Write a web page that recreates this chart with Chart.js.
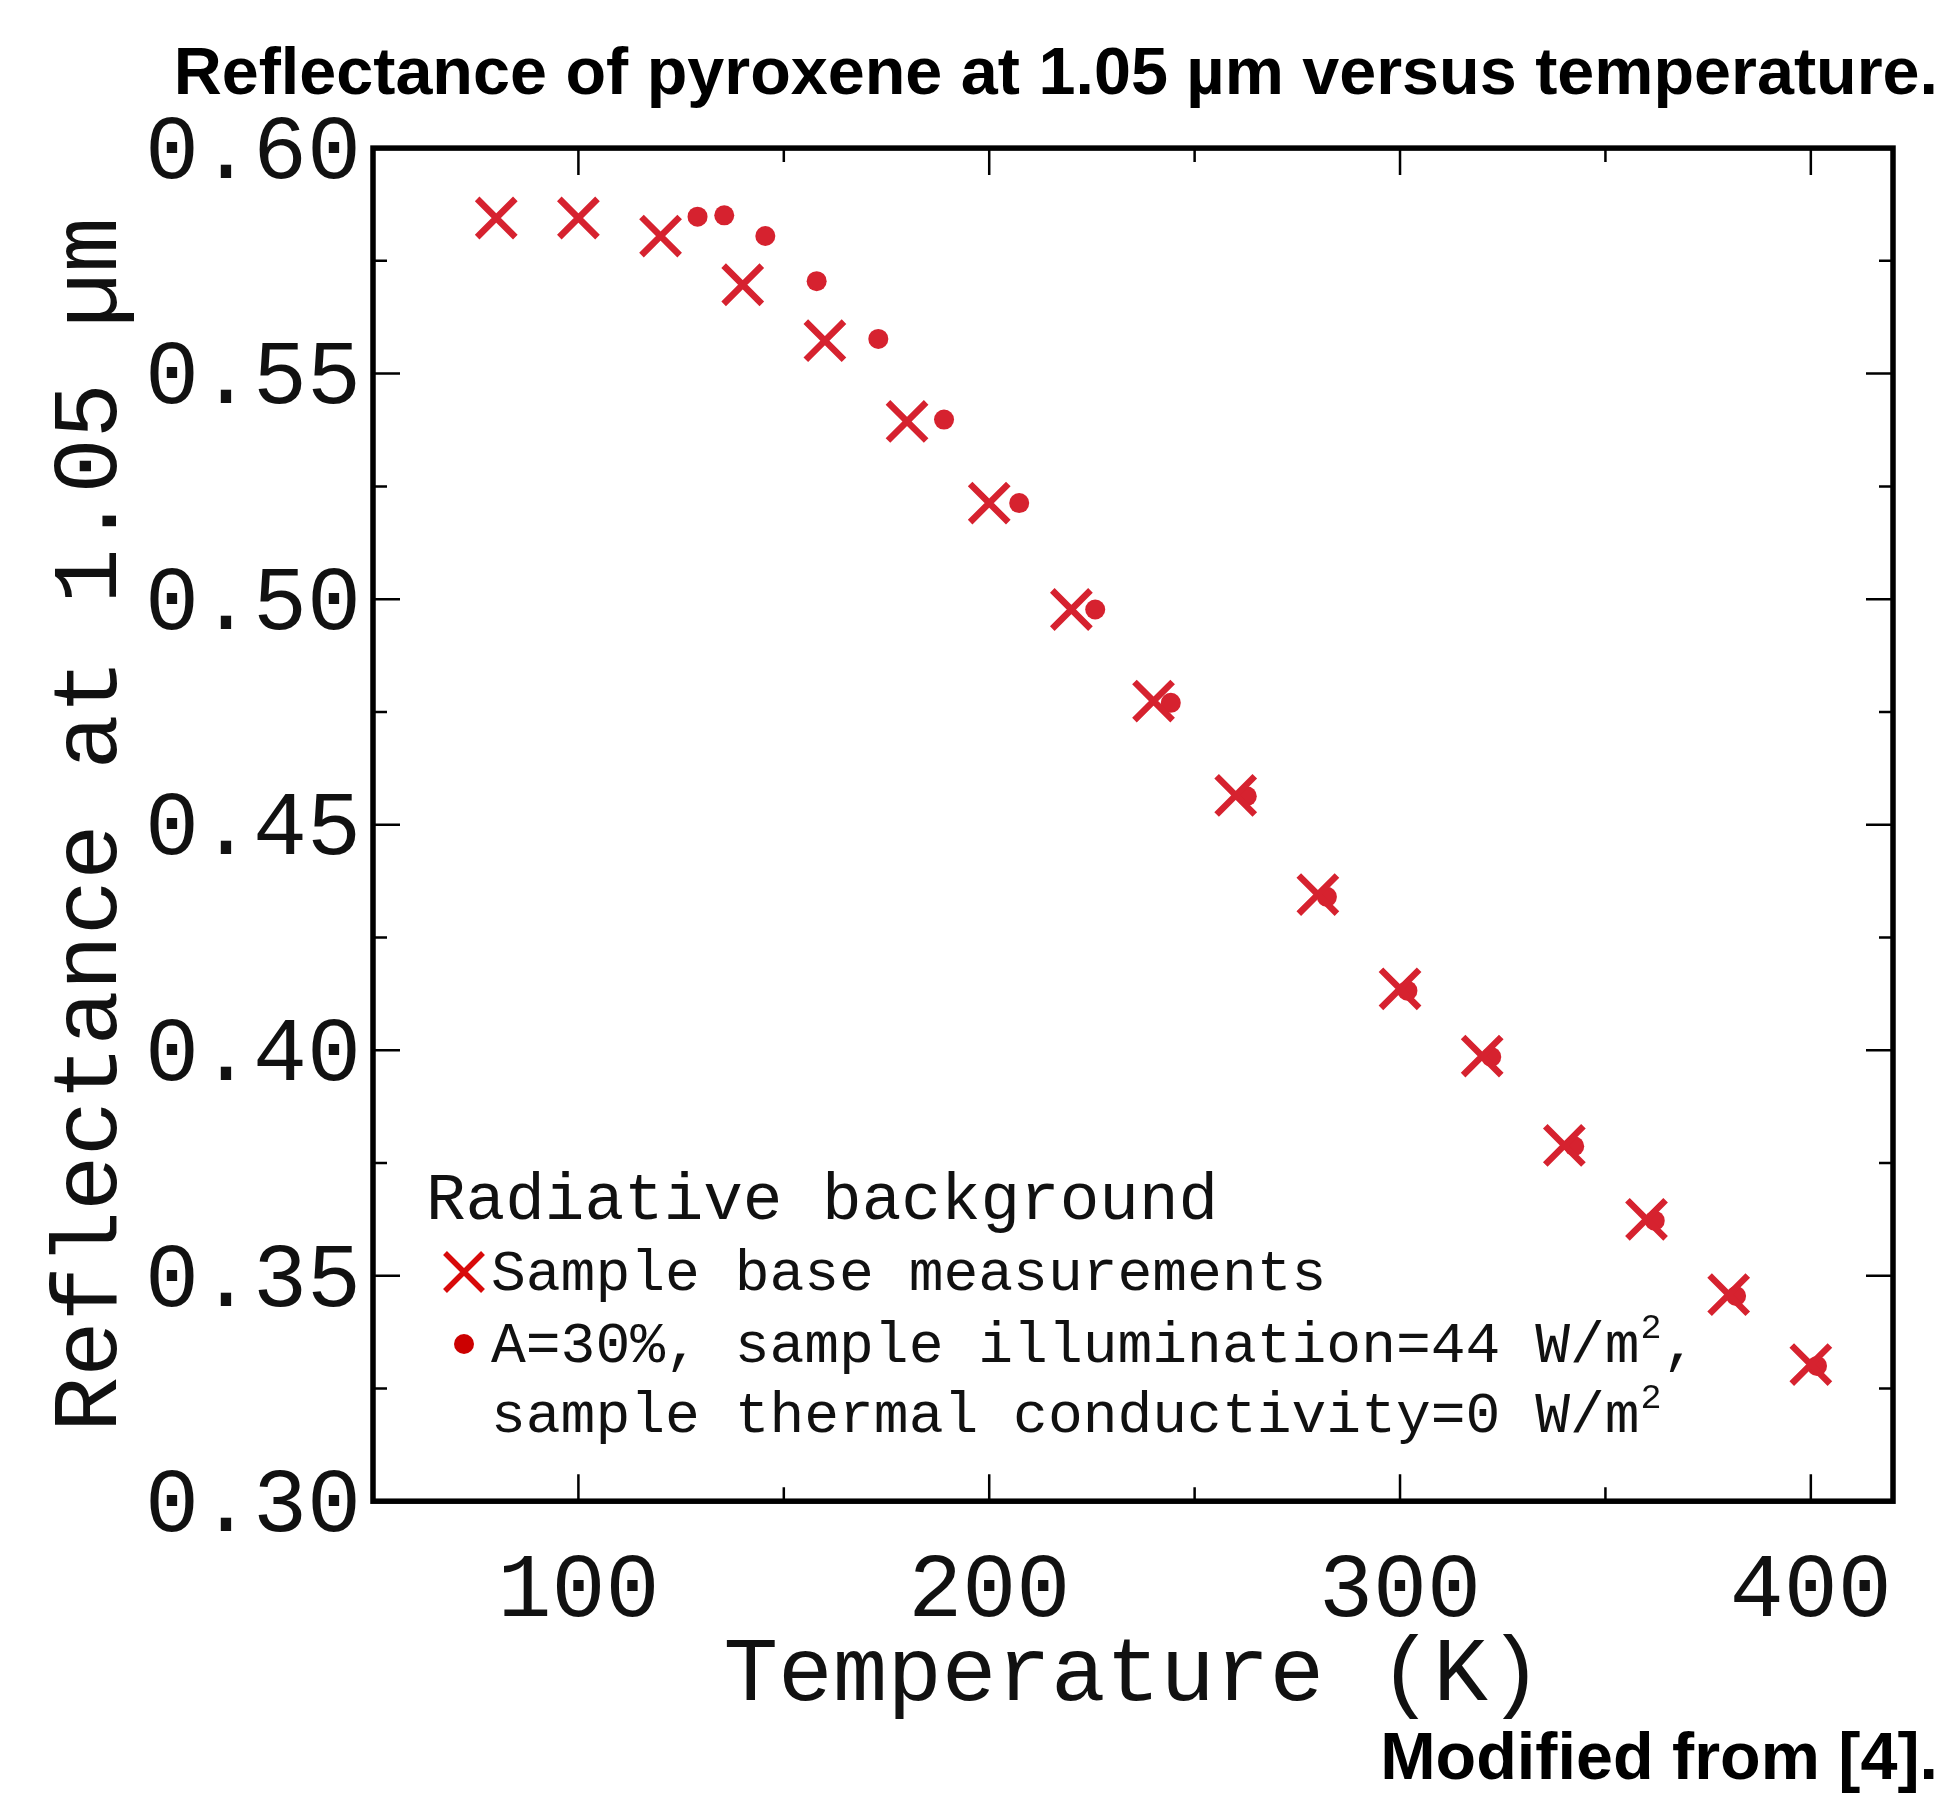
<!DOCTYPE html>
<html>
<head>
<meta charset="utf-8">
<script src="https://cdn.jsdelivr.net/npm/chart.js@4/dist/chart.umd.min.js"></script>
<style>
  html, body { margin: 0; padding: 0; background: #ffffff; }
  #wrap { width: 1947px; height: 1818px; }
</style>
</head>
<body>
<div id="wrap"><canvas id="c" width="1947" height="1818"></canvas></div>
<script>
// ---------------- DATA ----------------
const chartTitle = 'Reflectance of pyroxene at 1.05 µm versus temperature.';
const sourceNote = 'Modified from [4].';
const xAxisTitle = 'Temperature (K)';
const yAxisTitle = 'Reflectance at 1.05 µm';

const legendTitle = 'Radiative background';
const seriesBaseLabel = ['Sample base measurements'];
const seriesModelLabel = ['A=30%, sample illumination=44 W/m²,', 'sample thermal conductivity=0 W/m²'];

const temperatureBase = [80, 100, 120, 140, 160, 180, 200, 220, 240, 260, 280, 300, 320, 340, 360, 380, 400];
const reflectanceBase = [0.5845, 0.5845, 0.5805, 0.5697, 0.5573, 0.5394, 0.5213, 0.4977, 0.4774, 0.4565, 0.4345, 0.4136, 0.3987, 0.3789, 0.3625, 0.3458, 0.3303];

const temperatureModel = [129, 135.5, 145.5, 158, 173, 189, 207.3, 225.8, 244.2, 262.7, 282.2, 301.8, 322.2, 342.4, 362, 381.8, 401.5];
const reflectanceModel = [0.5848, 0.5851, 0.5805, 0.5705, 0.5577, 0.5398, 0.5213, 0.4977, 0.4770, 0.4563, 0.4340, 0.4132, 0.3985, 0.3787, 0.3622, 0.3455, 0.3300];

const xMin = 50, xMax = 420;
const yMin = 0.30, yMax = 0.60;
const xTickLabels = [100, 200, 300, 400];
const xMinorTicks = [150, 250, 350];
const yTickLabels = [0.30, 0.35, 0.40, 0.45, 0.50, 0.55, 0.60];
const yMinorTicks = [0.325, 0.375, 0.425, 0.475, 0.525, 0.575];

// ---------------- STYLE ----------------
const MONO = "'Liberation Mono', 'Courier New', monospace";
const SANS = "'Liberation Sans', Arial, sans-serif";
const markerColor = '#d6222f';
const legendCrossColor = '#d80a0a';
const legendDotColor = '#cc0000';

function drawRich(ctx, text, x, y, size) {
  // draws text, rendering "²" as a small superscript
  const parts = text.split('²');
  let cx = x;
  ctx.textAlign = 'left';
  ctx.textBaseline = 'alphabetic';
  parts.forEach((p, i) => {
    ctx.font = size + 'px ' + MONO;
    ctx.fillText(p, cx, y);
    cx += ctx.measureText(p).width;
    if (i < parts.length - 1) {
      const s = Math.round(size * 0.6);
      ctx.font = s + 'px ' + MONO;
      ctx.fillText('2', cx + 1, y - size * 0.42);
      cx += ctx.measureText('2').width + 2;
    }
  });
}

const framePlugin = {
  id: 'frameAndLegend',
  afterDraw(chart) {
    const ctx = chart.ctx;
    const a = chart.chartArea;
    const xs = chart.scales.x, ys = chart.scales.y;
    ctx.save();
    // inward ticks on all four sides
    ctx.strokeStyle = '#000';
    ctx.lineWidth = 2.5;
    const major = 27, minor = 14;
    const tx = (v, len) => {
      const p = xs.getPixelForValue(v);
      ctx.beginPath();
      ctx.moveTo(p, a.bottom); ctx.lineTo(p, a.bottom - len);
      ctx.moveTo(p, a.top); ctx.lineTo(p, a.top + len);
      ctx.stroke();
    };
    const ty = (v, len) => {
      const p = ys.getPixelForValue(v);
      ctx.beginPath();
      ctx.moveTo(a.left, p); ctx.lineTo(a.left + len, p);
      ctx.moveTo(a.right, p); ctx.lineTo(a.right - len, p);
      ctx.stroke();
    };
    xTickLabels.forEach(v => tx(v, major));
    xMinorTicks.forEach(v => tx(v, minor));
    yTickLabels.forEach(v => ty(v, major));
    yMinorTicks.forEach(v => ty(v, minor));
    // frame
    ctx.lineWidth = 5.5;
    ctx.strokeRect(a.left, a.top, a.right - a.left, a.bottom - a.top);

    // legend inside the plot
    const lx = a.left + 53;
    ctx.fillStyle = '#111';
    ctx.font = '66px ' + MONO;
    ctx.textAlign = 'left';
    ctx.textBaseline = 'alphabetic';
    ctx.fillText(legendTitle, lx, 1219);

    const tx0 = a.left + 118;
    // cross marker
    const cxm = a.left + 91, cym = 1272, h = 19;
    ctx.strokeStyle = legendCrossColor;
    ctx.lineWidth = 5.5;
    ctx.beginPath();
    ctx.moveTo(cxm - h, cym - h); ctx.lineTo(cxm + h, cym + h);
    ctx.moveTo(cxm + h, cym - h); ctx.lineTo(cxm - h, cym + h);
    ctx.stroke();
    ctx.fillStyle = '#111';
    drawRich(ctx, seriesBaseLabel[0], tx0, 1290, 58);
    // dot marker
    ctx.fillStyle = legendDotColor;
    ctx.beginPath();
    ctx.arc(cxm, 1344, 10, 0, Math.PI * 2);
    ctx.fill();
    ctx.fillStyle = '#111';
    drawRich(ctx, seriesModelLabel[0], tx0, 1362, 58);
    drawRich(ctx, seriesModelLabel[1], tx0, 1432, 58);
    ctx.restore();
  }
};

new Chart(document.getElementById('c'), {
  type: 'scatter',
  data: {
    datasets: [
      {
        label: seriesBaseLabel[0],
        data: temperatureBase.map((t, i) => ({ x: t, y: reflectanceBase[i] })),
        pointStyle: 'crossRot',
        pointRadius: 27,
        pointHoverRadius: 27,
        borderColor: markerColor,
        backgroundColor: markerColor,
        pointBorderWidth: 6.5,
        showLine: false
      },
      {
        label: seriesModelLabel.join(' '),
        data: temperatureModel.map((t, i) => ({ x: t, y: reflectanceModel[i] })),
        pointStyle: 'circle',
        pointRadius: 10,
        pointHoverRadius: 10,
        borderColor: markerColor,
        backgroundColor: markerColor,
        pointBorderWidth: 0,
        showLine: false
      }
    ]
  },
  options: {
    responsive: false,
    animation: false,
    devicePixelRatio: 1,
    events: [],
    layout: { padding: { left: 0, right: 9, top: 0, bottom: 0 } },
    plugins: {
      legend: { display: false },
      tooltip: { enabled: false },
      title: {
        display: true,
        text: chartTitle,
        align: 'end',
        color: '#000',
        font: { family: SANS, weight: 'bold', size: 66.5, lineHeight: 1.2 },
        padding: { top: 36, bottom: 32.3 }
      },
      subtitle: {
        display: true,
        position: 'bottom',
        text: sourceNote,
        align: 'end',
        color: '#000',
        font: { family: SANS, weight: 'bold', size: 66.5, lineHeight: 1.2 },
        padding: { top: 0, bottom: 17 }
      }
    },
    scales: {
      x: {
        type: 'linear',
        position: 'bottom',
        min: xMin,
        max: xMax,
        afterBuildTicks: s => { s.ticks = xTickLabels.map(v => ({ value: v })); },
        afterFit: s => { s.height = 220; },
        grid: { display: false },
        border: { display: false },
        ticks: {
          color: '#111',
          font: { family: MONO, size: 90, lineHeight: 1.2 },
          padding: 29,
          maxRotation: 0,
          autoSkip: false,
          callback: v => String(v)
        },
        title: {
          display: true,
          text: xAxisTitle,
          color: '#111',
          font: { family: MONO, size: 91, lineHeight: 1 },
          padding: { top: 0, bottom: 0 }
        }
      },
      y: {
        type: 'linear',
        position: 'left',
        min: yMin,
        max: yMax,
        afterBuildTicks: s => { s.ticks = yTickLabels.map(v => ({ value: v })); },
        afterFit: s => { s.width = 373; },
        grid: { display: false },
        border: { display: false },
        ticks: {
          color: '#111',
          font: { family: MONO, size: 90, lineHeight: 1.2 },
          padding: 4,
          labelOffset: 6,
          autoSkip: false,
          callback: v => Number(v).toFixed(2)
        },
        title: {
          display: true,
          text: yAxisTitle,
          color: '#111',
          font: { family: MONO, size: 92, lineHeight: 1 },
          padding: { top: 46, bottom: 0 }
        }
      },
      yRight: {
        type: 'linear',
        position: 'right',
        display: true,
        min: 0,
        max: 1,
        afterFit: s => { s.width = 45; },
        grid: { display: false },
        border: { display: false },
        ticks: { display: false },
        title: { display: false }
      }
    }
  },
  plugins: [framePlugin]
});
</script>
</body>
</html>
